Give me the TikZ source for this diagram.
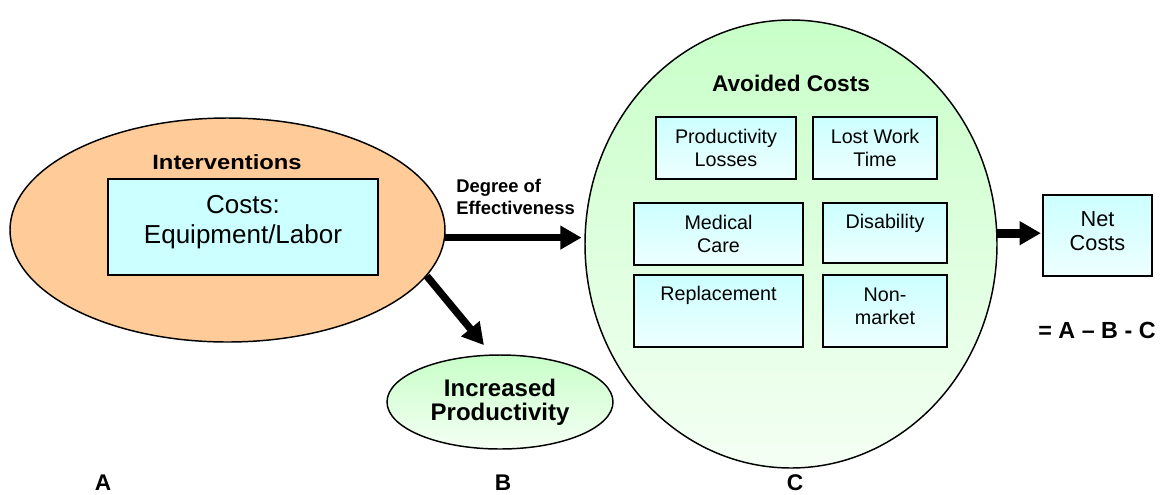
\documentclass[tikz,border=0pt]{standalone}
\usepackage{fontspec}
\setmainfont{Liberation Sans}
\usetikzlibrary{arrows.meta,shapes.geometric}
\definecolor{orangefill}{HTML}{FFCC99}
\definecolor{greentop}{HTML}{C8FFC8}
\definecolor{greenbot}{HTML}{F4FFF4}
\definecolor{cyantop}{HTML}{CCFFFF}
\definecolor{cyanbot}{HTML}{EEFFFF}
\begin{document}
\begin{tikzpicture}[x=0.75pt,y=-0.75pt,
  outline/.style={draw=black, line width=1.1pt},
  orangeell/.style={outline, ellipse, fill=orangefill, inner sep=0pt},
  greenell/.style={outline, ellipse, top color=greentop, bottom color=greenbot, inner sep=0pt},
  cyanbox/.style={outline, rectangle, top color=cyantop, bottom color=cyanbot, inner sep=0pt, align=center,
    font=\fontsize{14.8}{17.25}\selectfont},
  bigarrow/.style={line width=5.5pt, -{Triangle[length=16pt,width=17pt]}},
  boldtext/.style={inner sep=0pt, font=\bfseries\fontsize{#1}{#1}\selectfont},
  plaintext/.style={inner sep=0pt, align=center}
]
\useasboundingbox (0,0) rectangle (1160,494);

% Interventions ellipse
\node[orangeell, minimum width=326.25pt, minimum height=168pt] (orange) at (227.5,230) {};
\node[boldtext=15.5] (interv) at (227,162) {\scalebox{1.15}[1]{Interventions}};
\node[outline, rectangle, fill=cyantop, minimum width=202.5pt, minimum height=72pt] (costbox) at (243,227) {};
\node[plaintext, font=\fontsize{19.5}{22.5}\selectfont] (costtext) at (243,222) {Costs:\\Equipment/Labor};

% Increased productivity
\node[greenell, minimum width=169.5pt, minimum height=70.5pt, align=center,
  font=\bfseries\fontsize{18}{18}\selectfont] (incr) at (500,402) {Increased\\Productivity};

% Avoided costs ellipse
\node[greenell, minimum width=309pt, minimum height=336pt] (avoided) at (791,244) {};
\node[boldtext=17] (avtitle) at (791,83) {Avoided Costs};

\node[cyanbox, minimum width=105pt, minimum height=46.5pt] (pl) at (726,148) {Productivity\\Losses};
\node[cyanbox, minimum width=93pt, minimum height=46.5pt] (lw) at (875,148) {Lost Work\\Time};
\node[cyanbox, minimum width=126.75pt, minimum height=46.5pt] (mc) at (718.5,234) {Medical\\Care};
\node[cyanbox, minimum width=93pt, minimum height=45pt] (dis) at (885,233) {Disability\\\phantom{X}};
\node[cyanbox, minimum width=126.75pt, minimum height=54pt] (rep) at (718.5,311) {Replacement\\\phantom{X}\\[-8pt]\phantom{X}};
\node[cyanbox, minimum width=93pt, minimum height=54pt] (nm) at (885,311) {Non-\\market\\[-10pt]\phantom{X}};

% Net costs
\node[cyanbox, minimum width=81.75pt, minimum height=60.75pt] (net) at (1097.5,235.5) {};
\node[plaintext, font=\fontsize{16.3}{18}\selectfont] (nettext) at (1097.5,231) {Net\\Costs};
\node[boldtext=17.5] (eq) at (1097,330) {= A -- B - C};

% Degree label
\node[inner sep=0pt, anchor=west, align=left, font=\bfseries\fontsize{13.8}{16.5}\selectfont] (degree) at (456,197) {Degree of\\Effectiveness};

% Arrows
\draw[bigarrow, shorten >=2pt] (orange.-2) -- (orange.-2 -| avoided.west);
\draw[bigarrow, shorten >=9pt] (orange.-13) -- (incr.100);
\draw[bigarrow, line width=6.5pt, shorten >=1pt] (avoided.3) -- (avoided.3 -| net.west);

% Column letters
\node[boldtext=17] (la) at (103,483) {A};
\node[boldtext=17] (lb) at (503,483) {B};
\node[boldtext=17] (lc) at (795,483) {C};
\end{tikzpicture}
\end{document}
